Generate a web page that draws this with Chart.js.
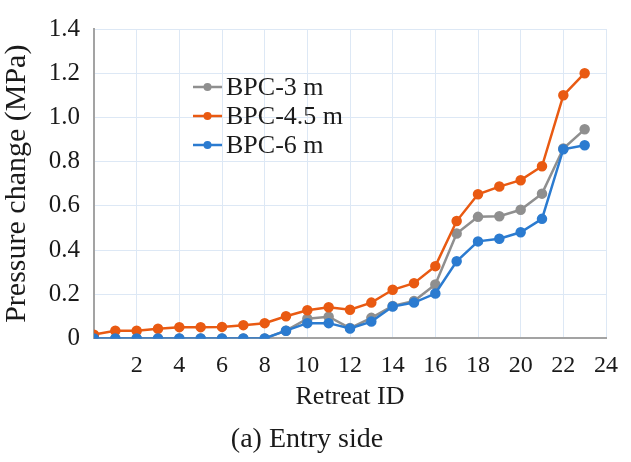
<!DOCTYPE html>
<html>
<head>
    <title>Pressure change - entry side</title>
    <style>
        body {
            margin: 0;
            padding: 0;
            background-color: #fff;
        }

        #chartBox {
            position: relative;
            width: 631px;
            height: 462px;
        }
    </style>
    <script src="https://cdn.jsdelivr.net/npm/chart.js"></script>
</head>
<body>
    <div id="chartBox">
        <canvas id="pressureChart"></canvas>
    </div>

    <script>
        // Retreat IDs along the x axis
        const retreatIds = [0, 1, 2, 3, 4, 5, 6, 7, 8, 9, 10, 11, 12, 13, 14, 15, 16, 17, 18, 19, 20, 21, 22, 23];

        // Pressure change (MPa) for each borehole depth
        const bpc3 = [0, 0, 0, 0, 0, 0, 0, 0, 0, 0.035, 0.089, 0.098, 0.047, 0.093, 0.147, 0.169, 0.244, 0.475, 0.55, 0.553, 0.582, 0.655, 0.859, 0.946];
        const bpc45 = [0.017, 0.035, 0.035, 0.044, 0.051, 0.051, 0.052, 0.06, 0.069, 0.1, 0.127, 0.141, 0.13, 0.162, 0.22, 0.25, 0.327, 0.531, 0.652, 0.687, 0.716, 0.779, 1.1, 1.2];
        const bpc6 = [0, 0, 0, 0, 0, 0, 0, 0, 0, 0.035, 0.069, 0.069, 0.045, 0.076, 0.144, 0.162, 0.203, 0.349, 0.439, 0.451, 0.48, 0.541, 0.856, 0.874];

        const seriesNames = ["BPC-3 m", "BPC-4.5 m", "BPC-6 m"];
        const seriesColors = ["#8f8f8f", "#e95a12", "#2b7bd0"];

        const serif = "'Liberation Serif', 'Times New Roman', serif";

        function toPoints(values) {
            return values.map((v, i) => ({ x: retreatIds[i], y: v }));
        }

        const allSeries = [bpc3, bpc45, bpc6];
        const datasets = allSeries.map((values, i) => ({
            label: seriesNames[i],
            data: toPoints(values),
            borderColor: seriesColors[i],
            backgroundColor: seriesColors[i],
            borderWidth: 2.5,
            pointRadius: 4,
            pointHoverRadius: 4,
            tension: 0,
            order: [2, 1, 0][i]
        }));

        // legend drawn inside the plot area, top left
        const innerLegend = {
            id: "innerLegend",
            afterDraw(chart) {
                const ctx = chart.ctx;
                ctx.save();
                ctx.font = "26px " + serif;
                ctx.textBaseline = "middle";
                ctx.textAlign = "left";
                chart.data.datasets.forEach((ds, i) => {
                    const y = 87 + i * 29;
                    ctx.strokeStyle = ds.borderColor;
                    ctx.lineWidth = 2.5;
                    ctx.beginPath();
                    ctx.moveTo(193, y);
                    ctx.lineTo(222, y);
                    ctx.stroke();
                    ctx.fillStyle = ds.borderColor;
                    ctx.beginPath();
                    ctx.arc(207.5, y, 4, 0, Math.PI * 2);
                    ctx.fill();
                    ctx.fillStyle = "#1a1a1a";
                    ctx.fillText(ds.label, 226, y + 1);
                });
                ctx.restore();
            }
        };

        const ctx = document.getElementById("pressureChart").getContext("2d");
        new Chart(ctx, {
            type: "line",
            data: { datasets: datasets },
            options: {
                responsive: true,
                maintainAspectRatio: false,
                animation: false,
                layout: {
                    padding: { top: 18, right: 17, left: 0, bottom: 0 }
                },
                plugins: {
                    legend: { display: false },
                    tooltip: { enabled: false },
                    title: {
                        display: true,
                        text: "(a) Entry side",
                        position: "bottom",
                        color: "#1a1a1a",
                        font: { family: serif, size: 28, weight: "normal", lineHeight: 1.2 },
                        padding: { top: 8, bottom: 6 }
                    }
                },
                scales: {
                    x: {
                        type: "linear",
                        min: 0,
                        max: 24,
                        afterFit(scale) { scale.height = 76; },
                        ticks: {
                            stepSize: 2,
                            padding: 13,
                            color: "#1a1a1a",
                            font: { family: serif, size: 24, lineHeight: 1.2 },
                            callback: (v) => (v === 0 ? "" : v)
                        },
                        grid: { color: "#dde8f5", lineWidth: 1, drawTicks: false },
                        border: { color: "#a3a3a3", width: 2 },
                        title: {
                            display: true,
                            text: "Retreat ID",
                            color: "#1a1a1a",
                            font: { family: serif, size: 26, lineHeight: 1.2 },
                            padding: { top: 0, bottom: 2 }
                        }
                    },
                    y: {
                        min: 0,
                        max: 1.4,
                        afterFit(scale) { scale.width = 94; },
                        ticks: {
                            stepSize: 0.2,
                            padding: 14,
                            color: "#1a1a1a",
                            font: { family: serif, size: 25, lineHeight: 1.2 },
                            callback: (v) => (v === 0 ? "0" : v.toFixed(1))
                        },
                        grid: { color: "#dde8f5", lineWidth: 1, drawTicks: false },
                        border: { color: "#a3a3a3", width: 2 },
                        title: {
                            display: true,
                            text: "Pressure change (MPa)",
                            color: "#1a1a1a",
                            font: { family: serif, size: 30, lineHeight: 1.1 },
                            padding: { top: 1, bottom: 0 }
                        }
                    }
                }
            },
            plugins: [innerLegend]
        });
    </script>
</body>
</html>
